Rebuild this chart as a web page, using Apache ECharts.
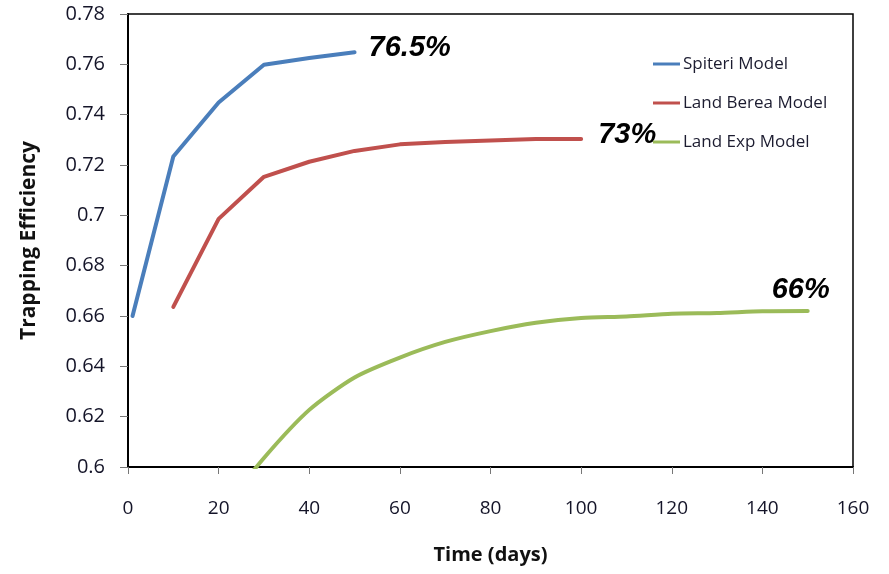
<!DOCTYPE html>
<html>
<head>
<meta charset="utf-8">
<script src="https://cdn.jsdelivr.net/npm/echarts@6/dist/echarts.min.js"></script>
<style>html,body{margin:0;padding:0;background:#fff}#c{width:889px;height:574px}</style>
</head>
<body>
<div id="c"></div>
<script>
var seriesNames = ['Spiteri Model', 'Land Berea Model', 'Land Exp Model'];
var spiteriDays = [1, 10, 20, 30, 40, 50];
var spiteriValues = [0.660, 0.7234, 0.7448, 0.7598, 0.7625, 0.7648];
var bereaDays = [10, 20, 30, 40, 50, 60, 70, 80, 90, 100];
var bereaValues = [0.6636, 0.6986, 0.7153, 0.7213, 0.7256, 0.7282, 0.7291, 0.7297, 0.7303, 0.7303];
var expDays = [20, 30, 40, 50, 60, 70, 80, 90, 100, 110, 120, 130, 140, 150];
var expValues = [0.581, 0.6036, 0.6227, 0.6356, 0.6435, 0.6497, 0.6540, 0.6573, 0.6592, 0.6598, 0.6609, 0.6612, 0.6619, 0.6620];
var endLabels = ['76.5%', '73%', '66%'];
var xTicks = [0, 20, 40, 60, 80, 100, 120, 140, 160];
var yTicks = ['0.6', '0.62', '0.64', '0.66', '0.68', '0.7', '0.72', '0.74', '0.76', '0.78'];

function pairs(xs, ys) { return xs.map(function (x, i) { return [x, ys[i]]; }); }

var colors = ['#4A7EBB', '#C0504D', '#9BBB59'];
var labelOffsets = [[0, -4], [3, -4], [-50, -21]];
var smoothing = [false, false, 0.25];
var data = [pairs(spiteriDays, spiteriValues), pairs(bereaDays, bereaValues), pairs(expDays, expValues)];

var chart = echarts.init(document.getElementById('c'), null, { renderer: 'canvas' });
chart.setOption({
  animation: false,
  backgroundColor: '#fff',
  grid: { left: 128, right: 36, top: 14, bottom: 107, show: true, borderColor: '#000', borderWidth: 1.5, containLabel: false },
  legend: {
    orient: 'vertical', left: 653, top: 54, padding: 0,
    icon: 'rect', itemWidth: 27, itemHeight: 3, itemGap: 19,
    textStyle: { fontFamily: 'Open Sans', fontSize: 17, color: '#1c1c30', lineHeight: 20, padding: [0, 0, 0, -2] },
    data: seriesNames
  },
  xAxis: {
    type: 'value', min: xTicks[0], max: xTicks[xTicks.length - 1], interval: 20,
    name: 'Time (days)', nameLocation: 'middle', nameGap: 78,
    nameTextStyle: { fontFamily: 'Open Sans', fontWeight: 'bold', fontSize: 20, color: '#111' },
    axisLine: { show: true, lineStyle: { color: '#000', width: 2 } },
    axisTick: { show: true, length: 7, lineStyle: { color: '#777', width: 1 } },
    axisLabel: { margin: 32, fontFamily: 'Open Sans', fontSize: 19, color: '#141428' },
    splitLine: { show: false }
  },
  yAxis: {
    type: 'value', min: 0.6, max: 0.78, interval: 0.02,
    name: 'Trapping Efficiency', nameLocation: 'middle', nameGap: 88,
    nameTextStyle: { fontFamily: 'Open Sans', fontWeight: 'bold', fontSize: 21, color: '#111' },
    axisLine: { show: true, lineStyle: { color: '#000', width: 2 } },
    axisTick: { show: true, length: 8, lineStyle: { color: '#777', width: 1 } },
    axisLabel: {
      margin: 23, fontFamily: 'Open Sans', fontSize: 20, color: '#141428',
      formatter: function (v) { return yTicks[Math.round((v - 0.6) / 0.02)]; }
    },
    splitLine: { show: false }
  },
  series: seriesNames.map(function (name, i) {
    return {
      name: name, type: 'line', data: data[i], symbol: 'none', clip: true,
      smooth: smoothing[i],
      color: colors[i],
      lineStyle: { width: 4, color: colors[i], cap: 'round', join: 'round' },
      endLabel: {
        show: true, formatter: endLabels[i], distance: 14, offset: labelOffsets[i],
        fontFamily: 'Liberation Sans', fontWeight: 'bold', fontStyle: 'italic', fontSize: 29, color: '#000'
      }
    };
  })
});
</script>
</body>
</html>
